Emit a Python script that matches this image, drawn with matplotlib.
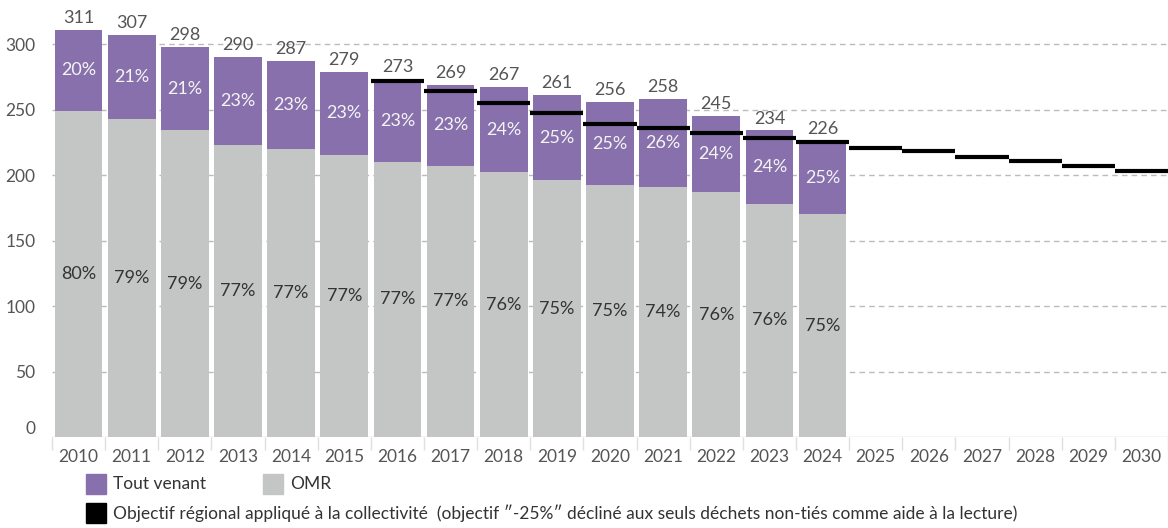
import matplotlib
matplotlib.use("Agg")
import matplotlib.pyplot as plt
from matplotlib.patches import Rectangle
import numpy as np

plt.rcParams['font.family'] = ['Lato', 'DejaVu Sans']

years = [str(y) for y in range(2010, 2031)]
bar_years = years[:15]
omr = [249, 243, 234, 223, 220, 215, 210, 207, 202, 196, 192, 191, 187, 178, 170]
tout_venant = [62, 64, 64, 67, 67, 64, 63, 62, 65, 65, 64, 67, 58, 56, 56]
totals = [311, 307, 298, 290, 287, 279, 273, 269, 267, 261, 256, 258, 245, 234, 226]
pct_tv = ["20%", "21%", "21%", "23%", "23%", "23%", "23%", "23%", "24%", "25%", "25%", "26%", "24%", "24%", "25%"]
pct_omr = ["80%", "79%", "79%", "77%", "77%", "77%", "77%", "77%", "76%", "75%", "75%", "74%", "76%", "76%", "75%"]
obj_years = years[6:]
objectif = [272, 264, 255, 247, 239, 236, 232, 228, 225, 221, 218, 214, 211, 207, 203]

PURPLE = "#8870ac"
GREY = "#c4c6c5"

fig = plt.figure(figsize=(11.68, 5.28), dpi=100)
ax = fig.add_axes([52 / 1168, 91 / 528, 1 - 52 / 1168, 437 / 528])

x_all = np.arange(len(years))
xb = np.arange(len(bar_years))
ax.bar(xb, omr, width=0.9, color=GREY, zorder=2)
ax.bar(xb, tout_venant, width=0.9, bottom=omr, color=PURPLE, zorder=2)

for i in xb:
    ax.text(i, omr[i] + tout_venant[i] + 3, str(totals[i]), ha='center', va='bottom',
            fontsize=13, color='#555555', zorder=4)
    ax.text(i, omr[i] + tout_venant[i] / 2, pct_tv[i], ha='center', va='center',
            fontsize=13, color='#f4f4f4', zorder=4)
    ax.text(i, omr[i] / 2, pct_omr[i], ha='center', va='center',
            fontsize=13, color='#333333', zorder=4)

xo = np.array([years.index(y) for y in obj_years])
ax.hlines(objectif, xo - 0.5, xo + 0.5, color='black', linewidth=3, zorder=3)

ax.set_xlim(-0.5, len(years) - 0.5)
ax.set_ylim(0, 333.6)
ax.set_yticks([0, 50, 100, 150, 200, 250, 300])
for yv in [50, 100, 150, 200, 250, 300]:
    ax.axhline(yv, color='#bbbbbb', linestyle=(0, (4, 3)), linewidth=1, zorder=1)
ax.axhline(0, color='#d0d0d0', linewidth=1, zorder=1)

ax.set_xticks(x_all)
ax.set_xticklabels(years)
ax.set_xticks(np.arange(-0.5, len(years)), minor=True)
ax.tick_params(axis='x', which='major', length=0, pad=9, labelsize=12.5, labelcolor='#555555')
ax.tick_params(axis='x', which='minor', length=9, color='#e0e0e0', width=1)
ax.tick_params(axis='y', length=0, pad=12, labelsize=12.5, labelcolor='#555555')
for s in ax.spines.values():
    s.set_visible(False)
# the 0 label sits a little above the baseline in the reference
ylabels = ax.get_yticklabels()
ylabels[0].set_va('bottom')

# legend
def legend_item(x0, ytop, color, label):
    fig.add_artist(Rectangle((x0 / 1168, 1 - (ytop + 20) / 528), 20 / 1168, 20 / 528,
                             transform=fig.transFigure, color=color))
    fig.text((x0 + 27) / 1168, 1 - (ytop + 10) / 528, label, ha='left', va='center',
             fontsize=12.5, color='#333333')

legend_item(86, 474, PURPLE, "Tout venant")
legend_item(263, 474, GREY, "OMR")
legend_item(86, 503, "black",
            "Objectif régional appliqué à la collectivité  (objectif ″-25%″ décliné aux seuls déchets non-tiés comme aide à la lecture)")

fig.savefig("out.png", dpi=100)
